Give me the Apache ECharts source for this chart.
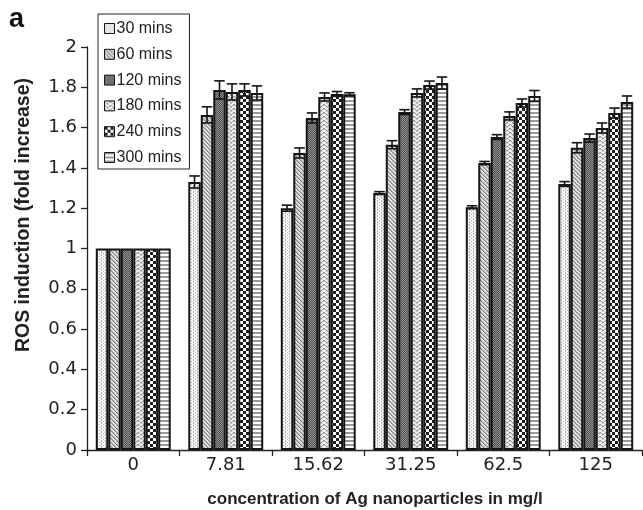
<!DOCTYPE html>
<html>
<head>
<meta charset="utf-8">
<script src="https://cdn.jsdelivr.net/npm/echarts@6/dist/echarts.min.js"></script>
<style>
html,body{margin:0;padding:0;background:#fff;}
#chart{width:643px;height:510px;}
</style>
</head>
<body>
<div id="chart"></div>
<script>
// ---- data ----
var categories = ['0', '7.81', '15.62', '31.25', '62.5', '125'];
var seriesNames = ['30 mins', '60 mins', '120 mins', '180 mins', '240 mins', '300 mins'];
var yTicks = [0, 0.2, 0.4, 0.6, 0.8, 1, 1.2, 1.4, 1.6, 1.8, 2];

var v30  = [1.00, 1.33, 1.20, 1.275, 1.205, 1.32];
var v60  = [1.00, 1.663, 1.474, 1.515, 1.424, 1.50];
var v120 = [1.00, 1.787, 1.648, 1.677, 1.553, 1.548];
var v180 = [1.00, 1.777, 1.752, 1.772, 1.658, 1.598];
var v240 = [1.00, 1.787, 1.767, 1.811, 1.722, 1.672];
var v300 = [1.00, 1.772, 1.765, 1.821, 1.757, 1.727];

var e30  = [0, 0.03, 0.015, 0.007, 0.007, 0.012];
var e60  = [0, 0.04, 0.025, 0.02, 0.008, 0.025];
var e120 = [0, 0.045, 0.025, 0.012, 0.012, 0.02];
var e180 = [0, 0.04, 0.02, 0.02, 0.02, 0.025];
var e240 = [0, 0.03, 0.012, 0.02, 0.02, 0.025];
var e300 = [0, 0.035, 0.008, 0.03, 0.027, 0.03];

var values = [v30, v60, v120, v180, v240, v300];
var errors = [e30, e60, e120, e180, e240, e300];

// ---- patterns ----
function tile(w, h, draw) {
  var c = document.createElement('canvas');
  c.width = w; c.height = h;
  var ctx = c.getContext('2d');
  draw(ctx);
  return {image: c, repeat: 'repeat'};
}
function px(ctx, color, pts) {
  ctx.fillStyle = color;
  for (var i = 0; i < pts.length; i++) ctx.fillRect(pts[i][0], pts[i][1], 1, 1);
}
var patterns = [
  // 30: light dotted
  tile(4, 3, function (ctx) {
    ctx.fillStyle = '#f6f6f6'; ctx.fillRect(0, 0, 4, 3);
    px(ctx, '#b0b0b0', [[1, 0], [3, 1], [1, 2]]);
  }),
  // 60: diagonal hatch
  tile(4, 4, function (ctx) {
    ctx.fillStyle = '#e0e0e0'; ctx.fillRect(0, 0, 4, 4);
    px(ctx, '#888888', [[0, 0], [1, 1], [2, 2], [3, 3]]);
    px(ctx, '#b0b0b0', [[1, 0], [2, 1], [3, 2], [0, 3]]);
  }),
  // 120: dark fine checker
  tile(2, 2, function (ctx) {
    ctx.fillStyle = '#555555'; ctx.fillRect(0, 0, 2, 2);
    px(ctx, '#8c8c8c', [[0, 0], [1, 1]]);
  }),
  // 180: light zigzag
  tile(6, 4, function (ctx) {
    ctx.fillStyle = '#ececec'; ctx.fillRect(0, 0, 6, 4);
    px(ctx, '#9d9d9d', [[0, 0], [1, 1], [2, 2], [3, 2], [4, 1], [5, 0]]);
    px(ctx, '#c4c4c4', [[0, 1], [5, 1], [2, 3], [3, 3]]);
  }),
  // 240: checkerboard
  tile(6, 6, function (ctx) {
    ctx.fillStyle = '#ffffff'; ctx.fillRect(0, 0, 6, 6);
    ctx.fillStyle = '#1e1e1e';
    ctx.fillRect(0, 0, 3, 3); ctx.fillRect(3, 3, 3, 3);
  }),
  // 300: horizontal stripes
  tile(1, 4, function (ctx) {
    ctx.fillStyle = '#ffffff'; ctx.fillRect(0, 0, 1, 4);
    ctx.fillStyle = '#9a9a9a'; ctx.fillRect(0, 0, 1, 2);
  })
];

var FONT = 'Liberation Sans, Arial, Helvetica, sans-serif';
var TICKFONT = 'DejaVu Sans, sans-serif';
var catGap = 0.19;

var series = [];
seriesNames.forEach(function (name, i) {
  series.push({
    name: name,
    type: 'bar',
    data: values[i],
    barGap: '0%',
    barCategoryGap: (catGap * 100) + '%',
    itemStyle: {color: patterns[i], borderColor: '#151515', borderWidth: 2},
    emphasis: {disabled: true},
    z: 2
  });
});

// error bars
var errData = [];
seriesNames.forEach(function (name, i) {
  categories.forEach(function (c, j) {
    if (errors[i][j] > 0) errData.push([j, values[i][j], errors[i][j], i]);
  });
});
series.push({
  type: 'custom',
  name: 'err',
  data: errData,
  encode: {x: 0, y: 1},
  z: 5,
  silent: true,
  renderItem: function (params, api) {
    var cat = api.value(0), val = api.value(1), err = api.value(2), si = api.value(3);
    var band = api.size([1, 0])[0];
    var bw = band * (1 - catGap) / 6;
    var base = api.coord([cat, val]);
    var cx = base[0] + (si - 2.5) * bw;
    var yTop = api.coord([cat, val + err])[1];
    var yBot = api.coord([cat, val - err])[1];
    var hw = bw * 0.42;
    var st = {stroke: '#151515', lineWidth: 1.6};
    return {
      type: 'group',
      children: [
        {type: 'line', shape: {x1: cx, y1: yTop, x2: cx, y2: yBot}, style: st},
        {type: 'line', shape: {x1: cx - hw, y1: yTop, x2: cx + hw, y2: yTop}, style: st},
        {type: 'line', shape: {x1: cx - hw, y1: yBot, x2: cx + hw, y2: yBot}, style: st}
      ]
    };
  }
});

var chart = echarts.init(document.getElementById('chart'), null, {renderer: 'canvas'});
chart.setOption({
  animation: false,
  backgroundColor: '#ffffff',
  graphic: [
    {type: 'text', x: 9, y: 20, style: {text: 'a', font: 'bold 27px ' + FONT, fill: '#111', verticalAlign: 'middle', align: 'left'}},
    {type: 'text', x: 24, y: 215, rotation: Math.PI / 2,
      style: {text: 'ROS induction (fold increase)', font: 'bold 19.5px ' + FONT, fill: '#222', verticalAlign: 'middle', align: 'center'}},
    {type: 'text', x: 375, y: 499,
      style: {text: 'concentration of Ag nanoparticles in mg/l', font: 'bold 17px ' + FONT, fill: '#222', verticalAlign: 'middle', align: 'center'}}
  ],
  legend: {
    data: seriesNames,
    orient: 'vertical',
    left: 98,
    top: 14,
    padding: [6, 8, 3, 6],
    itemGap: 8.8,
    itemWidth: 10,
    itemHeight: 10,
    icon: 'rect',
    itemStyle: {borderColor: '#151515', borderWidth: 1},
    borderColor: '#222',
    borderWidth: 1,
    backgroundColor: '#fff',
    textStyle: {fontFamily: FONT, fontSize: 16, color: '#222', padding: [0, 0, 0, -3], lineHeight: 17},
    selectedMode: false,
    z: 10
  },
  grid: {left: 87, right: 1, top: 47, bottom: 60, containLabel: false},
  xAxis: {
    type: 'category',
    data: categories,
    axisLine: {lineStyle: {color: '#222', width: 1.3}},
    axisTick: {show: true, length: 6, alignWithLabel: false, lineStyle: {color: '#222', width: 1.3}},
    axisLabel: {fontFamily: TICKFONT, fontSize: 18, color: '#222', margin: 6}
  },
  yAxis: {
    type: 'value',
    min: 0,
    max: 2,
    interval: 0.2,
    axisLine: {show: true, lineStyle: {color: '#222', width: 1.3}},
    axisTick: {show: true, length: 6, lineStyle: {color: '#222', width: 1.3}},
    splitLine: {show: false},
    axisLabel: {
      fontFamily: TICKFONT, fontSize: 18, color: '#222', margin: 10,
      formatter: function (v) {
        for (var k = 0; k < yTicks.length; k++) {
          if (Math.abs(yTicks[k] - v) < 1e-6) return String(yTicks[k]);
        }
        return '';
      }
    }
  },
  series: series
});
</script>
</body>
</html>
